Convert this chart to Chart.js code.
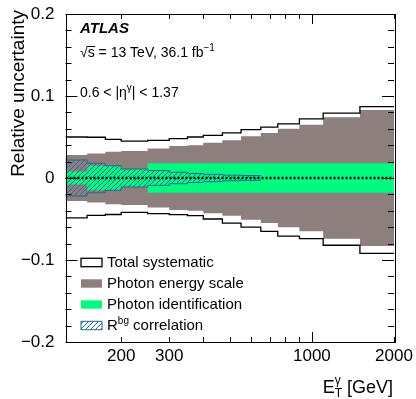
<!DOCTYPE html>
<html>
<head>
<meta charset="utf-8">
<script src="https://cdn.jsdelivr.net/npm/chart.js@4.4.1/dist/chart.umd.min.js"></script>
<style>
  html, body { margin: 0; padding: 0; background: #fff; }
  canvas { display: block; }
</style>
</head>
<body>
<canvas id="chart" width="416" height="399"></canvas>
<script>
// bin edges in E_T^gamma [GeV]
const binEdges = [125, 150, 175, 200, 250, 300, 350, 400, 470, 550, 650, 750, 900, 1100, 1500, 2000];

// relative uncertainties per bin
const totalUp     = [0.050, 0.0497, 0.047, 0.045, 0.046, 0.048, 0.050, 0.052, 0.055, 0.059, 0.062, 0.066, 0.072, 0.079, 0.087];
const totalDown   = [0.0487, 0.0455, 0.0445, 0.042, 0.0435, 0.0446, 0.046, 0.050, 0.055, 0.060, 0.065, 0.071, 0.074, 0.082, 0.092];
const energyScale = [0.028, 0.030, 0.032, 0.033, 0.036, 0.039, 0.040, 0.043, 0.046, 0.051, 0.055, 0.060, 0.065, 0.074, 0.083];
const photonId    = [0.008, 0.015, 0.015, 0.011, 0.018, 0.018, 0.018, 0.018, 0.018, 0.018, 0.018, 0.018, 0.018, 0.018, 0.018];
const rbgCorr     = [0.022, 0.018, 0.015, 0.011, 0.009, 0.007, 0.0055, 0.0045, 0.0035, 0.003];

const xTickLabels = [200, 300, 1000, 2000];
const xTickMarks = [200, 300, 400, 500, 600, 700, 800, 900, 1000, 2000];

const FONT = "'Liberation Sans', Arial, Helvetica, sans-serif";
const BROWN = '#8c7f7d';
const GREEN = '#00fa80';
const HATCH = '#2f6a9c';

// step line points: value i holds from edge i to edge i+1
function steps(vals, sign) {
  const pts = vals.map((v, i) => ({ x: binEdges[i], y: sign * v }));
  pts.push({ x: binEdges[vals.length], y: sign * vals[vals.length - 1] });
  return pts;
}

const ctx0 = document.getElementById('chart').getContext('2d');

function makeHatch() {
  const c = document.createElement('canvas');
  c.width = 5; c.height = 5;
  const g = c.getContext('2d');
  g.strokeStyle = HATCH;
  g.lineWidth = 1;
  g.beginPath();
  g.moveTo(0, 5); g.lineTo(5, 0);
  g.moveTo(-1, 1); g.lineTo(1, -1);
  g.moveTo(4, 6); g.lineTo(6, 4);
  g.stroke();
  return ctx0.createPattern(c, 'repeat');
}
const hatch = makeHatch();

function band(vals, sign, opts) {
  return Object.assign({
    data: steps(vals, sign),
    stepped: true,
    pointRadius: 0,
    borderWidth: 0,
    fill: false
  }, opts);
}

const datasets = [
  // total systematic outline
  band(totalUp, 1, { borderColor: '#000', borderWidth: 1.3, order: 1 }),
  band(totalDown, -1, { borderColor: '#000', borderWidth: 1.3, order: 1 }),
  // zero line
  { data: [{ x: 125, y: 0 }, { x: 2000, y: 0 }], pointRadius: 0, borderColor: '#000',
    borderWidth: 2.5, borderDash: [2, 2], fill: false, order: 0 },
  // R^bg correlation
  band(rbgCorr, 1, { borderColor: '#2a6890', borderWidth: 1, fill: '+1', backgroundColor: hatch, order: 2 }),
  band(rbgCorr, -1, { borderColor: '#2a6890', borderWidth: 1, order: 2 }),
  // photon identification
  band(photonId, 1, { fill: '+1', backgroundColor: GREEN, order: 3 }),
  band(photonId, -1, { order: 3 }),
  // photon energy scale
  band(energyScale, 1, { fill: '+1', backgroundColor: BROWN, order: 4 }),
  band(energyScale, -1, { order: 4 })
];

function rich(ctx, parts, x, y) {
  // parts: [text, sizePx, dy]
  let cx = x;
  for (const [t, s, dy] of parts) {
    ctx.font = s + 'px ' + FONT;
    ctx.fillText(t, cx, y + dy);
    cx += ctx.measureText(t).width;
  }
  return cx;
}

const decorations = {
  id: 'decorations',
  afterDraw(chart) {
    const { ctx, chartArea: a, scales: { x, y } } = chart;
    ctx.save();
    ctx.strokeStyle = '#000';
    ctx.lineWidth = 1;
    ctx.beginPath();
    for (let i = -10; i <= 10; i++) {
      const py = Math.round(y.getPixelForValue(i * 0.02)) + 0.5;
      const len = i % 5 === 0 ? 12 : 6;
      ctx.moveTo(a.left, py); ctx.lineTo(a.left + len, py);
      ctx.moveTo(a.right, py); ctx.lineTo(a.right - len, py);
    }
    for (const v of xTickMarks) {
      const px = Math.round(x.getPixelForValue(v)) + 0.5;
      const len = v === 1000 ? 10 : 5;
      ctx.moveTo(px, a.bottom); ctx.lineTo(px, a.bottom - len);
      ctx.moveTo(px, a.top); ctx.lineTo(px, a.top + len);
    }
    ctx.stroke();
    ctx.strokeRect(Math.round(a.left) + 0.5, Math.round(a.top) + 0.5,
      Math.round(a.right - a.left), Math.round(a.bottom - a.top));

    ctx.fillStyle = '#000';
    ctx.textBaseline = 'alphabetic';
    ctx.textAlign = 'left';

    // ATLAS label
    ctx.font = 'italic bold 15px ' + FONT;
    ctx.fillText('ATLAS', 80, 33);
    ctx.font = '14px ' + FONT;
    ctx.fillText('\u221A', 80, 57);
    const sx = 80 + ctx.measureText('\u221A').width;
    const sw = ctx.measureText('s').width;
    ctx.beginPath();
    ctx.moveTo(sx - 0.5, 46.5); ctx.lineTo(sx + sw + 0.5, 46.5);
    ctx.stroke();
    const ex = rich(ctx, [['s = 13 TeV, 36.1 fb', 14, 0]], sx, 57);
    rich(ctx, [['\u22121', 10, -6]], ex, 57);
    rich(ctx, [['0.6 < |\u03B7', 14, 0], ['\u03B3', 10, -6], ['| < 1.37', 14, 0]], 80, 97);

    // legend
    const lx = 81, lw = 21, lh = 8.4;
    const rows = [267, 288, 309, 330];
    ctx.fillStyle = '#fff';
    ctx.fillRect(lx, rows[0] - 8.7, lw, lh);
    ctx.lineWidth = 1.3;
    ctx.strokeStyle = '#000';
    ctx.strokeRect(lx, rows[0] - 8.7, lw, lh);
    ctx.fillStyle = BROWN;
    ctx.fillRect(lx, rows[1] - 8.7, lw, lh);
    ctx.fillStyle = GREEN;
    ctx.fillRect(lx, rows[2] - 8.7, lw, lh);
    ctx.fillStyle = hatch;
    ctx.fillRect(lx, rows[3] - 8.7, lw, lh);
    ctx.strokeStyle = '#2a6890';
    ctx.lineWidth = 1;
    ctx.strokeRect(lx, rows[3] - 8.7, lw, lh);

    ctx.fillStyle = '#000';
    ctx.font = '15px ' + FONT;
    ctx.fillText('Total systematic', 107, rows[0]);
    ctx.fillText('Photon energy scale', 107, rows[1]);
    ctx.fillText('Photon identification', 107, rows[2]);
    rich(ctx, [['R', 15, 0], ['bg', 10, -6], [' correlation', 15, 0]], 107, rows[3]);

    // x axis title, right aligned
    ctx.font = '18px ' + FONT;
    const wE = ctx.measureText('E').width;
    const wG = ctx.measureText(' [GeV]').width;
    ctx.font = '12px ' + FONT;
    const wS = Math.max(ctx.measureText('T').width, ctx.measureText('\u03B3').width);
    const x0 = 393 - (wE + wS + wG);
    ctx.font = '18px ' + FONT;
    ctx.fillText('E', x0, 393);
    ctx.fillText(' [GeV]', x0 + wE + wS, 393);
    ctx.font = '12px ' + FONT;
    ctx.fillText('T', x0 + wE, 397);
    ctx.fillText('\u03B3', x0 + wE, 384);

    // y axis title
    ctx.translate(24, 10);
    ctx.rotate(-Math.PI / 2);
    ctx.textAlign = 'right';
    ctx.font = '19px ' + FONT;
    ctx.fillText('Relative uncertainty', 0, 0);
    ctx.restore();
  }
};

new Chart(ctx0, {
  type: 'line',
  data: { datasets: datasets },
  options: {
    responsive: false,
    animation: false,
    devicePixelRatio: 1,
    layout: { padding: { left: 0, top: 14, right: 22, bottom: 0 } },
    plugins: { legend: { display: false }, tooltip: { enabled: false } },
    scales: {
      x: {
        type: 'logarithmic',
        min: 125,
        max: 2000,
        grid: { display: false },
        border: { display: false },
        afterBuildTicks: (s) => { s.ticks = xTickLabels.map(v => ({ value: v })); },
        afterFit: (s) => { s.height = 57; },
        ticks: {
          autoSkip: false,
          maxRotation: 0,
          padding: -4,
          color: '#000',
          font: { family: FONT, size: 17 },
          callback: (v) => String(v)
        }
      },
      y: {
        min: -0.2,
        max: 0.2,
        grid: { display: false },
        border: { display: false },
        afterFit: (s) => { s.width = 65.5; },
        ticks: {
          stepSize: 0.1,
          padding: 3,
          color: '#000',
          font: { family: FONT, size: 17 },
          callback: (v) => Math.abs(v) < 1e-9 ? '0' : (v < 0 ? '\u2212' + Math.abs(v).toFixed(1) : v.toFixed(1))
        }
      }
    }
  },
  plugins: [decorations]
});
</script>
</body>
</html>
